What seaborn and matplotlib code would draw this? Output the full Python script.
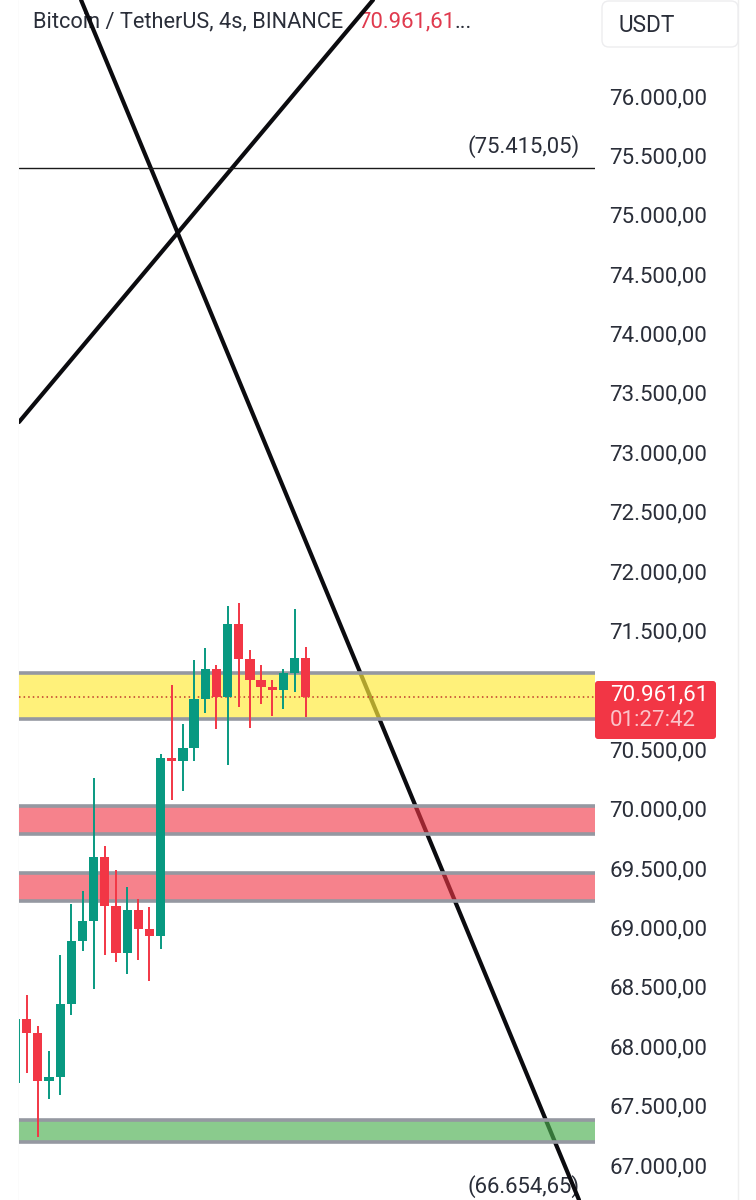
import matplotlib
matplotlib.use("Agg")
import matplotlib.pyplot as plt
from matplotlib.patches import FancyBboxPatch
from matplotlib.lines import Line2D
from matplotlib.transforms import Affine2D
import pandas as pd
import seaborn as sns

candle_x = [0.34,1,2,3,4,5,6,7,8,9,10,11,12,13,14,15,16,17,18,19,20,21,22,23,24,25,26]
opens = [67950,68227,68114,67710,67738,68356,68882,69054,69591,69181,68782,69147,68989,68925,70424,70399,70511,70921,71173,70943,71555,71258,71083,71027,70999,71145,71271]
closes = [67950,68114,67710,67738,68356,68882,69054,69591,69181,68782,69147,68989,68925,70424,70399,70511,70921,71173,70943,71555,71258,71083,71027,70999,71145,71271,70938]
highs = [68227,68434,68170,67957,68766,69197,69309,70261,69688,69484,69338,69237,69170,70458,71039,70713,71252,71353,71212,71706,71734,71336,71212,71083,71178,71679,71359]
lows = [67693,67777,67238,67553,67587,68266,68804,68479,68766,68709,68606,68726,68547,68819,70073,70146,70404,70808,70673,70365,70853,70679,70881,70780,70842,70982,70774]

band_tops = [71140,70025,69461,67376]
band_bottoms = [70755,69787,69220,67191]
band_colors = ["#FFEB3B","#F23645","#F23645","#4CAF50"]
band_alphas = [0.68,0.62,0.62,0.65]

line_a_x = [5.87,50.49]
line_a_y = [76808,66705]
line_b_x = [0.31,32.03]
line_b_y = [73255,76808]
level_high = 75394
last_price = 70940

tick_values = [76000,75500,75000,74500,74000,73500,73000,72500,72000,71500,70500,70000,69500,69000,68500,68000,67500,67000]
tick_labels = ["76.000,00","75.500,00","75.000,00","74.500,00","74.000,00","73.500,00","73.000,00","72.500,00","72.000,00","71.500,00","70.500,00","70.000,00","69.500,00","69.000,00","68.500,00","68.000,00","67.500,00","67.000,00"]

UP = "#089981"
DOWN = "#F23645"
FONT = "Roboto"

sns.set_theme(style="white")
plt.rcParams["font.family"] = [FONT, "DejaVu Sans"]

fig = plt.figure(figsize=(7.56, 12), dpi=100, facecolor="white")
ax = fig.add_axes([19/756, 0, 576/756, 1])
ax.set_xlim(0.31, 51.92)
ax.set_ylim(66705, 76808)
for s in ax.spines.values():
    s.set_visible(False)

sns.lineplot(x=line_a_x, y=line_a_y, ax=ax, color="#0B0B0F", lw=3, zorder=2, errorbar=None, estimator=None)
sns.lineplot(x=line_b_x, y=line_b_y, ax=ax, color="#0B0B0F", lw=3, zorder=2, errorbar=None, estimator=None)
ax.axhline(level_high, color="#1A1A1A", lw=1, zorder=2)

for top, bot, c, a in zip(band_tops, band_bottoms, band_colors, band_alphas):
    ax.axhspan(bot, top, facecolor=c, alpha=a, lw=0, zorder=3)
    ax.axhline(top, color="#9598A1", lw=2.6, zorder=3.1)
    ax.axhline(bot, color="#9598A1", lw=2.6, zorder=3.1)

ax.axhline(last_price, color="#C0392B", lw=1.1, ls=(0, (1, 2)), zorder=3.2)

df = pd.DataFrame({"x": candle_x, "o": opens, "c": closes, "h": highs, "l": lows})
df["col"] = [UP if c >= o else DOWN for o, c in zip(df.o, df.c)]
ax.vlines(df.x, df.l, df.h, colors=df.col, lw=1.4, zorder=4)
ax.bar(df.x, (df.c - df.o).abs(), bottom=df[["o", "c"]].min(axis=1), width=0.83, color=df.col, lw=0, zorder=5)
ax.set_xlim(0.31, 51.92)

ax.set_yticks(tick_values)
ax.set_yticklabels(tick_labels)
ax.yaxis.tick_right()
ax.tick_params(axis="y", length=0, pad=10.2, labelsize=16, labelcolor="#2A2E39", right=False, left=False)
ax.set_xticks([])

px = Affine2D().scale(1, -1).translate(0, 1200)

ax.text(33, 22, "Bitcoin / TetherUS, 4s, BINANCE", transform=px, fontsize=15.7, color="#2A2E39", va="center", ha="left", zorder=1)
ax.text(358, 22, "70.961,61", transform=px, fontsize=15.9, color="#E03A4E", va="center", ha="left", zorder=1)
ax.text(454, 22, "...", transform=px, fontsize=15.7, color="#2A2E39", va="center", ha="left", zorder=1)
ax.text(580, 147, "(75.415,05)", transform=px, fontsize=15.9, color="#2A2E39", va="center", ha="right", zorder=1)
ax.text(580, 1187, "(66.654,65)", transform=px, fontsize=15.9, color="#2A2E39", va="center", ha="right", zorder=1)

fig.add_artist(Line2D([19, 19], [0, 1200], transform=px, color="#EFEFEF", lw=1, zorder=-1))
fig.add_artist(Line2D([737.5, 737.5], [0, 1200], transform=px, color="#EFEFEF", lw=1, zorder=-1))
fig.add_artist(FancyBboxPatch((602, 1), 136, 46, boxstyle="round,pad=0,rounding_size=7", transform=px, fc="white", ec="#EDEDEF", lw=1, zorder=5))
fig.text(619, 25, "USDT", transform=px, fontsize=16.3, color="#2A2E39", va="center", ha="left", zorder=6)

fig.add_artist(FancyBboxPatch((595, 681), 121, 58, boxstyle="round,pad=0,rounding_size=3", transform=px, fc=DOWN, ec="none", zorder=5))
fig.text(610, 695, "70.961,61", transform=px, fontsize=16, color="white", va="center", ha="left", zorder=6)
fig.text(610, 721, "01:27:42", transform=px, fontsize=16, color="#FBC4CA", va="center", ha="left", zorder=6)

fig.savefig("out.png", dpi=100, facecolor="white")
